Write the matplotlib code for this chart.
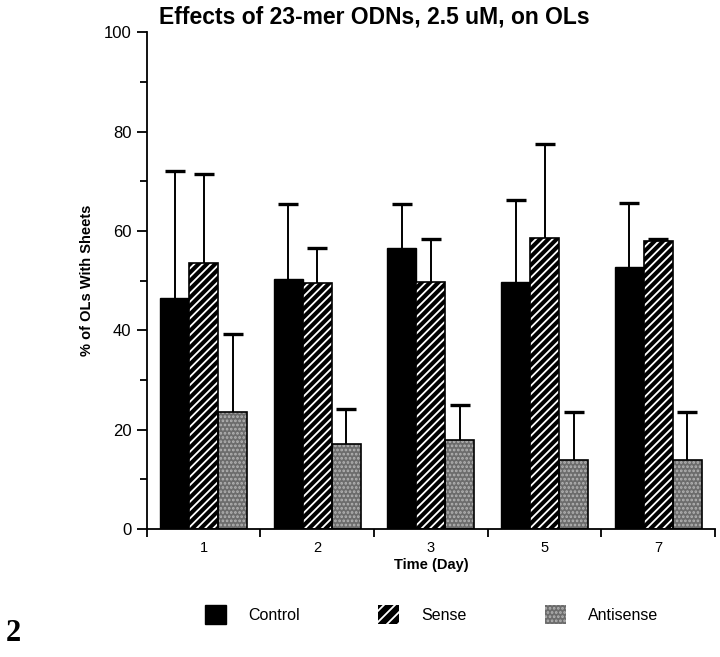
import numpy as np
import matplotlib.pyplot as plt
from matplotlib.patches import Patch
from matplotlib.ticker import MultipleLocator

plt.rcParams['font.family'] = ['Liberation Sans', 'DejaVu Sans']
plt.rcParams['hatch.linewidth'] = 1.3

# date
zile = ['1', '2', '3', '5', '7']
control = [46.5, 50.4, 56.5, 49.8, 52.7]
control_err = [25.6, 15.0, 9.0, 16.5, 13.0]
sense = [53.5, 49.6, 49.7, 58.6, 58.0]
sense_err = [17.9, 6.9, 8.6, 18.9, 0.4]
antisense = [23.5, 17.0, 17.8, 13.9, 13.9]
antisense_err = [15.7, 7.2, 7.2, 9.6, 9.6]

fig = plt.figure(figsize=(7.2, 6.57), dpi=100)
ax = fig.add_axes([0.204, 0.195, 0.789, 0.756])

x = np.arange(len(zile))
w = 0.255
gri = '#6c6c6c'
puncte = '#b4b4b4'


def bare_eroare(pos, val, err):
    # doar bara superioara, cu capac
    val = np.array(val)
    top = val + np.array(err)
    ax.vlines(pos, val, top, color='black', linewidth=1.4, zorder=4)
    ax.plot(pos, top, ls='none', marker='_', markersize=14, mew=2.4,
            color='black', zorder=4)


# Control - negru plin
ax.bar(x - w, control, w, color='black', edgecolor='black', linewidth=1, zorder=2)
bare_eroare(x - w, control, control_err)

# Sense - negru cu dungi albe
ax.bar(x, sense, w, color='black', edgecolor='white', linewidth=0,
       hatch='////', zorder=2)
ax.bar(x, sense, w, color='none', edgecolor='black', linewidth=1.2, zorder=3)
bare_eroare(x, sense, sense_err)

# Antisense - gri punctat
ax.bar(x + w, antisense, w, color=gri, edgecolor=puncte, linewidth=0,
       hatch='....', zorder=2)
ax.bar(x + w, antisense, w, color='none', edgecolor='black', linewidth=1.2, zorder=3)
bare_eroare(x + w, antisense, antisense_err)

ax.set_xlim(-0.5, len(zile) - 0.5)
ax.set_ylim(0, 100)
ax.spines['top'].set_visible(False)
ax.spines['right'].set_visible(False)
ax.spines['left'].set_linewidth(1.3)
ax.spines['bottom'].set_linewidth(1.3)

ax.yaxis.set_major_locator(MultipleLocator(20))
ax.yaxis.set_minor_locator(MultipleLocator(10))
ax.tick_params(axis='y', which='major', length=7, width=1.3, labelsize=12, pad=4)
ax.tick_params(axis='y', which='minor', length=5, width=1.3)

ax.set_xticks(x)
ax.set_xticklabels(zile)
ax.set_xticks(np.arange(len(zile) + 1) - 0.5, minor=True)
ax.tick_params(axis='x', which='major', length=0, labelsize=10.5, pad=9)
ax.tick_params(axis='x', which='minor', length=6, width=1.3)

ax.set_title('Effects of 23-mer ODNs, 2.5 uM, on OLs', fontsize=16.5,
             fontweight='bold', pad=6, x=0.40)
ax.set_ylabel('% of OLs With Sheets', fontsize=10.5, fontweight='bold', labelpad=7)
ax.set_xlabel('Time (Day)', fontsize=10.5, fontweight='bold', labelpad=2)

handles = [Patch(facecolor='black', edgecolor='black'),
           Patch(facecolor='black', edgecolor='white', hatch='///', linewidth=0),
           Patch(facecolor=gri, edgecolor=puncte, hatch='....', linewidth=0)]
fig.legend(handles, ['Control', 'Sense', 'Antisense'], ncol=3, frameon=False,
           loc='center', bbox_to_anchor=(0.60, 0.065), fontsize=11.5,
           handlelength=1.3, handleheight=1.4, handletextpad=1.4, columnspacing=4.9)

fig.text(0.008, 0.025, '2', fontsize=22, fontweight='bold', family='Liberation Serif')

fig.savefig('out.png', dpi=100)
